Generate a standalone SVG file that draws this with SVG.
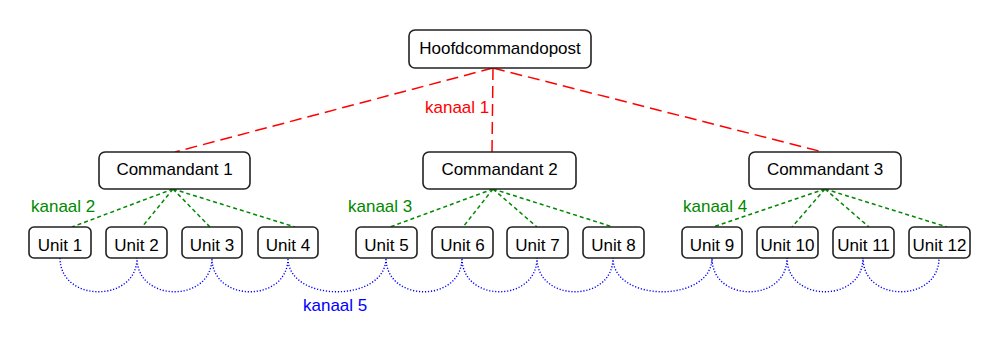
<svg xmlns="http://www.w3.org/2000/svg" width="1000" height="346" viewBox="0 0 1000 346">
<style>
.box{fill:#fff;stroke:#222;stroke-width:1.6}
.lbl{font-family:"Liberation Sans",Arial,sans-serif;font-size:17px;fill:#000;text-anchor:middle}
.k{font-family:"Liberation Sans",Arial,sans-serif;font-size:17px}
.red{stroke:#f00;stroke-width:1.5;stroke-dasharray:12,6;fill:none}
.green{stroke:#080;stroke-width:1.5;stroke-dasharray:4,3;fill:none}
.blue{stroke:#00f;stroke-width:1.4;stroke-dasharray:1.2,1.8;fill:none}
</style>
<rect width="1000" height="346" fill="#fff"/>
<g id="connectors">
<path class="red" d="M493 68 L175 152 M493 68 L492 152 M493 68 L823 152"/>
<path class="green" d="M173 189 L72 227 M173 189 L142 227 M173 189 L210 227 M173 189 L295 227"/>
<path class="green" d="M493 189 L390 227 M493 189 L463 227 M493 189 L537 227 M493 189 L613 227"/>
<path class="green" d="M825 189 L713 227 M825 189 L792 227 M825 189 L869 227 M825 189 L947 227"/>
<path class="blue" d="M60 258 C60 303 137 303 137 258 C137 303 212 303 212 258 C212 303 288 303 288 258 C288 303 386 303 386 258 C386 303 462 303 462 258 C462 303 537 303 537 258 C537 303 613 303 613 258 C613 303 712 303 712 258 C712 303 787 303 787 258 C787 303 863 303 863 258 C863 303 939 303 939 258"/>
<text class="k" x="425" y="113" fill="#f00">kanaal 1</text>
<text class="k" x="31" y="212" fill="#080">kanaal 2</text>
<text class="k" x="348" y="212" fill="#080">kanaal 3</text>
<text class="k" x="683" y="212" fill="#080">kanaal 4</text>
<text class="k" x="303" y="311" fill="#00f">kanaal 5</text>
</g>
<g id="hq"><rect class="box" x="409" y="30" width="182" height="38" rx="6"/><text class="lbl" x="500" y="54">Hoofdcommandopost</text></g>
<g id="c1"><rect class="box" x="99" y="152" width="151" height="37" rx="6"/><text class="lbl" x="174.5" y="175">Commandant 1</text></g>
<g id="c2"><rect class="box" x="423" y="152" width="153" height="37" rx="6"/><text class="lbl" x="499.5" y="175">Commandant 2</text></g>
<g id="c3"><rect class="box" x="749" y="152" width="152" height="37" rx="6"/><text class="lbl" x="825" y="175">Commandant 3</text></g>
<g id="u1"><rect class="box" x="29" y="227" width="62" height="31" rx="5"/><text class="lbl" x="60" y="251">Unit 1</text></g>
<g id="u2"><rect class="box" x="106" y="227" width="61" height="31" rx="5"/><text class="lbl" x="136.5" y="251">Unit 2</text></g>
<g id="u3"><rect class="box" x="182" y="227" width="60" height="31" rx="5"/><text class="lbl" x="212" y="251">Unit 3</text></g>
<g id="u4"><rect class="box" x="258" y="227" width="60" height="31" rx="5"/><text class="lbl" x="288" y="251">Unit 4</text></g>
<g id="u5"><rect class="box" x="356" y="227" width="61" height="31" rx="5"/><text class="lbl" x="386.5" y="251">Unit 5</text></g>
<g id="u6"><rect class="box" x="432" y="227" width="61" height="31" rx="5"/><text class="lbl" x="462.5" y="251">Unit 6</text></g>
<g id="u7"><rect class="box" x="507" y="227" width="61" height="31" rx="5"/><text class="lbl" x="537.5" y="251">Unit 7</text></g>
<g id="u8"><rect class="box" x="583" y="227" width="61" height="31" rx="5"/><text class="lbl" x="613.5" y="251">Unit 8</text></g>
<g id="u9"><rect class="box" x="682" y="227" width="60" height="31" rx="5"/><text class="lbl" x="712" y="251">Unit 9</text></g>
<g id="u10"><rect class="box" x="757" y="227" width="61" height="31" rx="5"/><text class="lbl" x="787.5" y="251">Unit 10</text></g>
<g id="u11"><rect class="box" x="833" y="227" width="61" height="31" rx="5"/><text class="lbl" x="863.5" y="251">Unit 11</text></g>
<g id="u12"><rect class="box" x="909" y="227" width="61" height="31" rx="5"/><text class="lbl" x="939.5" y="251">Unit 12</text></g>
</svg>
